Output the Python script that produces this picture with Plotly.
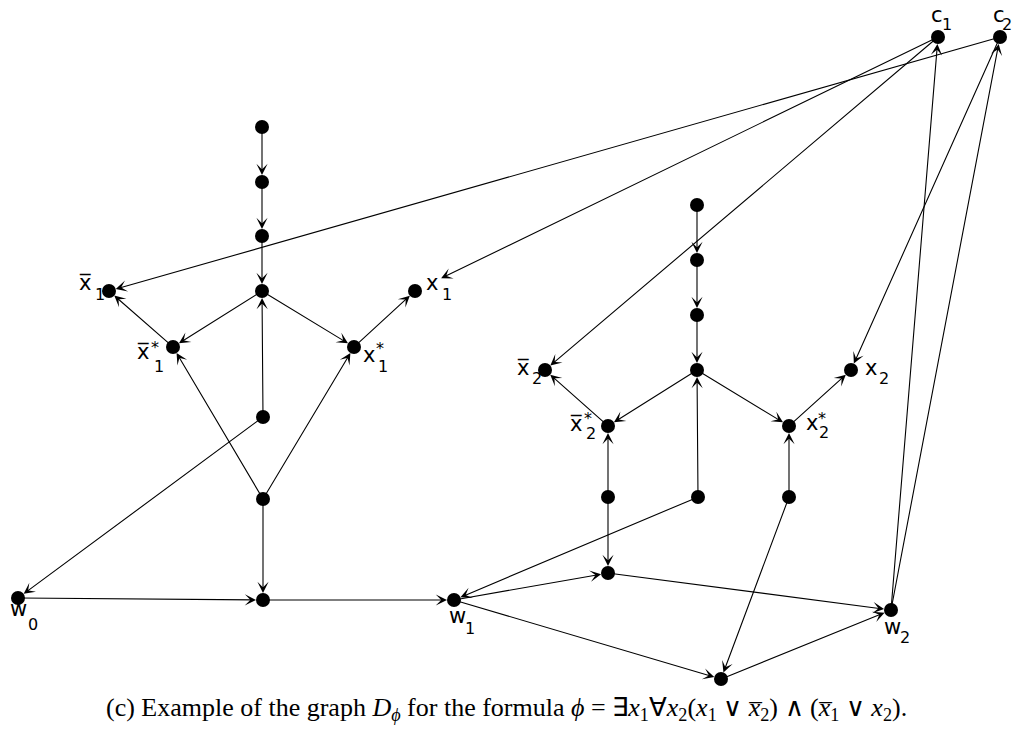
import plotly.graph_objects as go

################################################################################
################################ Graph Data ####################################
################################################################################

### Node names and their positions (pixel coordinates, y grows downwards)
NODE_NAMES = ['a1', 'a2', 'a3', 'h1', 'nx1', 'px1', 'nx1s', 'px1s', 'm1', 'b1',
              'd1', 'w0', 'w1',
              'a4', 'a5', 'a6', 'h2', 'nx2', 'px2', 'nx2s', 'px2s', 'l2', 'm2',
              'r2', 'e2', 'f2', 'w2', 'c1', 'c2']
NODE_X = [262, 262, 262, 262, 109, 415, 173, 354, 263, 263,
          263, 18, 454,
          697, 697, 697, 697, 545, 851, 608, 789, 608, 698,
          789, 608, 721, 891, 938, 1000]
NODE_Y = [127, 182, 236, 291, 291, 291, 347, 347, 417, 499,
          600, 598, 600,
          205, 260, 315, 370, 370, 370, 426, 426, 497, 497,
          497, 573, 679, 610, 37, 37]

### Directed edges (source, target); the c1 -> x1 arrow stops short of its node
EDGE_SRC = ['a1', 'a2', 'a3', 'h1', 'h1', 'nx1s', 'px1s', 'm1', 'm1', 'b1', 'b1',
            'b1', 'w0', 'd1', 'c1', 'c2',
            'a4', 'a5', 'a6', 'h2', 'h2', 'nx2s', 'px2s', 'm2', 'm2', 'l2', 'l2',
            'r2', 'r2', 'w1', 'w1', 'e2', 'f2', 'w2', 'w2', 'c1', 'c2']
EDGE_DST = ['a2', 'a3', 'h1', 'nx1s', 'px1s', 'nx1', 'px1', 'h1', 'w0', 'nx1s', 'px1s',
            'd1', 'd1', 'w1', 'px1', 'nx1',
            'a5', 'a6', 'h2', 'nx2s', 'px2s', 'nx2', 'px2', 'h2', 'w1', 'nx2s', 'e2',
            'px2s', 'f2', 'e2', 'f2', 'w2', 'w2', 'c1', 'c2', 'nx2', 'px2']
EDGE_GAP = [7] * 14 + [29] + [7] * 22

### Node labels: main glyph, subscript, superscript
LABEL_MAIN = ['x\u0305', 'x', 'x\u0305', 'x', 'x\u0305', 'x', 'x\u0305', 'x',
              'w', 'w', 'w', 'c', 'c']
LABEL_MAIN_X = [85, 432, 143, 369, 523, 871, 576, 812, 18, 457, 892, 937, 999]
LABEL_MAIN_Y = [283, 283, 352, 355, 368, 368, 424, 423, 609, 616, 627, 15, 15]
LABEL_SUB = ['1', '1', '1', '1', '2', '2', '2', '2', '0', '1', '2', '1', '2']
LABEL_SUB_X = [100, 447, 159, 383, 537, 884, 591, 824, 33, 470, 905, 947, 1007]
LABEL_SUB_Y = [294, 294, 366, 366, 378, 378, 433, 432, 624, 628, 637, 24, 24]
LABEL_SUP = ['', '', '*', '*', '', '', '*', '*', '', '', '', '', '']
LABEL_SUP_X = [0, 0, 155, 380, 0, 0, 588, 822, 0, 0, 0, 0, 0]
LABEL_SUP_Y = [0, 0, 347, 348, 0, 0, 418, 418, 0, 0, 0, 0, 0]

CAPTION = ("(c) Example of the graph <i>D</i><sub><i>\u03d5</i></sub> for the formula "
           "<i>\u03d5</i> = \u2203<i>x</i><sub>1</sub>\u2200<i>x</i><sub>2</sub>"
           "(<i>x</i><sub>1</sub> \u2228 <i>x\u0305</i><sub>2</sub>) \u2227 "
           "(<i>x\u0305</i><sub>1</sub> \u2228 <i>x</i><sub>2</sub>).")

################################################################################
################################ Build Figure ##################################
################################################################################

pos = {n: (x, y) for n, x, y in zip(NODE_NAMES, NODE_X, NODE_Y)}

fig = go.Figure()

annotations = []
for src, dst, gap in zip(EDGE_SRC, EDGE_DST, EDGE_GAP):
    annotations.append(dict(
        x=pos[dst][0], y=pos[dst][1], ax=pos[src][0], ay=pos[src][1],
        xref='x', yref='y', axref='x', ayref='y', text='',
        showarrow=True, arrowhead=3, arrowsize=1.7, arrowwidth=1.1,
        arrowcolor='black', standoff=gap))

fig.add_trace(go.Scatter(x=NODE_X, y=NODE_Y, mode='markers',
                         marker=dict(size=14, color='black'),
                         hoverinfo='skip', showlegend=False))

label_font = dict(family='DejaVu Sans', size=21, color='black')
small_font = dict(family='DejaVu Sans', size=16, color='black')
for i in range(len(LABEL_MAIN)):
    annotations.append(dict(x=LABEL_MAIN_X[i], y=LABEL_MAIN_Y[i], text=LABEL_MAIN[i],
                            xref='x', yref='y', showarrow=False, font=label_font))
    annotations.append(dict(x=LABEL_SUB_X[i], y=LABEL_SUB_Y[i], text=LABEL_SUB[i],
                            xref='x', yref='y', showarrow=False, font=small_font))
    if LABEL_SUP[i]:
        annotations.append(dict(x=LABEL_SUP_X[i], y=LABEL_SUP_Y[i], text=LABEL_SUP[i],
                                xref='x', yref='y', showarrow=False, font=small_font))

annotations.append(dict(x=506, y=709, text=CAPTION, xref='x', yref='y',
                        showarrow=False,
                        font=dict(family='Liberation Serif', size=26, color='black')))

fig.update_layout(
    width=1013, height=734,
    margin=dict(l=0, r=0, t=0, b=0),
    paper_bgcolor='white', plot_bgcolor='white',
    xaxis=dict(range=[0, 1013], visible=False, fixedrange=True),
    yaxis=dict(range=[734, 0], visible=False, fixedrange=True),
    annotations=annotations,
)

### Drop the page's default body margin so the figure fills the window exactly
fig.write_html("out.html",
               config={'displayModeBar': False, 'staticPlot': True},
               post_script="document.body.style.margin='0';"
                           "document.documentElement.style.overflow='hidden';")
